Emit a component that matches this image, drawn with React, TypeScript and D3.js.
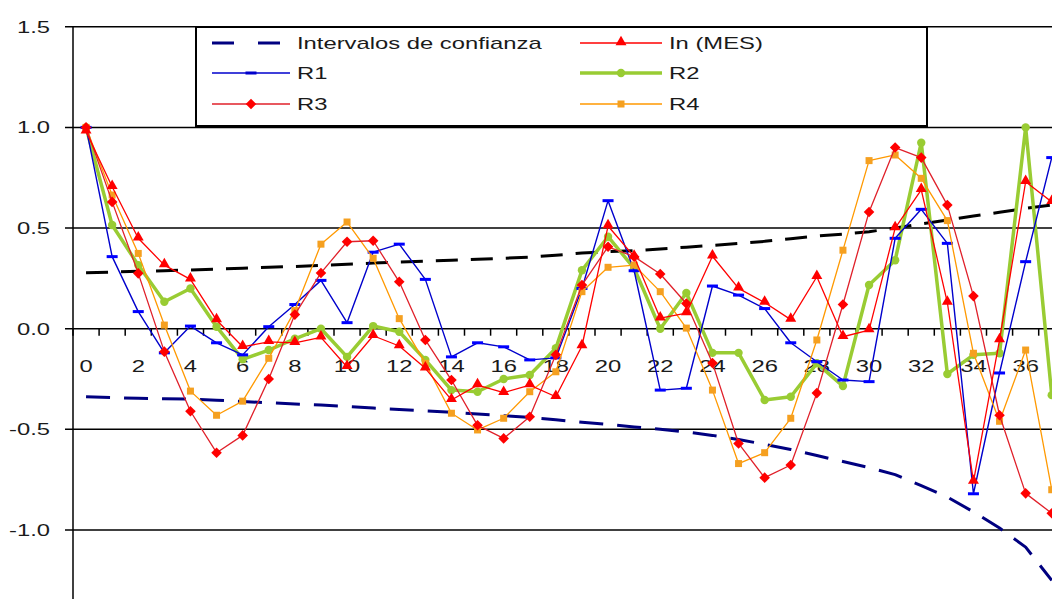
import React from "react";
import * as d3 from "d3";

// ---- data ----
const periods = [0,1,2,3,4,5,6,7,8,9,10,11,12,13,14,15,16,17,18,19,20,21,22,23,24,25,26,27,28,29,30,31,32,33,34,35,36,37];
const xTickLabels = ["0","2","4","6","8","10","12","14","16","18","20","22","24","26","28","30","32","34","36"];
const xTickIndex = [0,2,4,6,8,10,12,14,16,18,20,22,24,26,28,30,32,34,36];
const yTicks = [1.5, 1.0, 0.5, 0.0, -0.5, -1.0];
const yTickLabels = ["1.5", "1.0", "0.5", "0.0", "-0.5", "-1.0"];

const ciUpper = [0.278,0.281,0.285,0.288,0.292,0.296,0.300,0.305,0.309,0.314,0.320,0.326,0.331,0.335,0.340,0.345,0.350,0.356,0.365,0.376,0.383,0.388,0.396,0.405,0.414,0.424,0.434,0.447,0.460,0.470,0.482,0.500,0.520,0.540,0.560,0.578,0.598,0.615];
const ciLower = [-0.338,-0.342,-0.346,-0.348,-0.350,-0.355,-0.362,-0.368,-0.374,-0.379,-0.386,-0.394,-0.401,-0.408,-0.415,-0.424,-0.432,-0.441,-0.452,-0.465,-0.476,-0.488,-0.500,-0.513,-0.530,-0.550,-0.575,-0.600,-0.630,-0.660,-0.690,-0.725,-0.780,-0.836,-0.910,-0.990,-1.085,-1.250];
const inMes = [0.98,0.705,0.449,0.316,0.245,0.043,-0.09,-0.065,-0.07,-0.043,-0.19,-0.035,-0.086,-0.197,-0.354,-0.28,-0.318,-0.28,-0.338,-0.086,0.51,0.358,0.052,0.077,0.36,0.20,0.13,0.045,0.258,-0.04,-0.007,0.50,0.69,0.13,-0.76,-0.056,0.73,0.63];
const r1 = [1.0,0.358,0.085,-0.12,0.013,-0.07,-0.13,0.01,0.12,0.24,0.03,0.38,0.42,0.245,-0.14,-0.07,-0.09,-0.155,-0.145,0.20,0.636,0.288,-0.305,-0.296,0.212,0.167,0.10,-0.07,-0.164,-0.255,-0.263,0.449,0.593,0.424,-0.82,-0.22,0.333,0.85];
const r2 = [1.0,0.515,0.316,0.134,0.2,0.01,-0.152,-0.106,-0.05,0.0,-0.14,0.013,-0.015,-0.155,-0.305,-0.313,-0.25,-0.23,-0.097,0.29,0.457,0.30,0.0,0.177,-0.12,-0.12,-0.354,-0.338,-0.172,-0.285,0.217,0.34,0.924,-0.225,-0.13,-0.122,1.0,-0.33];
const r3 = [1.0,0.63,0.275,-0.114,-0.41,-0.616,-0.53,-0.25,0.07,0.277,0.432,0.437,0.233,-0.056,-0.255,-0.48,-0.545,-0.437,-0.13,0.217,0.407,0.358,0.272,0.125,-0.17,-0.57,-0.74,-0.677,-0.32,0.12,0.58,0.90,0.85,0.614,0.162,-0.43,-0.818,-0.917];
const r4 = [1.0,0.664,0.374,0.018,-0.31,-0.43,-0.36,-0.147,0.09,0.42,0.53,0.35,0.05,-0.172,-0.42,-0.503,-0.445,-0.313,-0.214,0.184,0.305,0.316,0.184,0.003,-0.305,-0.67,-0.616,-0.445,-0.056,0.39,0.835,0.863,0.747,0.537,-0.122,-0.46,-0.106,-0.80];

const W = 1052;
const H = 599;
const FONT = "'Liberation Sans', Arial, sans-serif";
const SX = 1.4;

const x = d3.scaleBand<number>().domain(periods).range([73, 73 + 26.1 * periods.length]).padding(0);
const cx = (i: number) => (x(i) as number) + x.bandwidth() / 2;
const y = d3.scaleLinear().domain([-1.5, 1.5]).range([630.65, 26.75]);

type Marker = "tri" | "bar" | "circle" | "diamond" | "square" | "none";

const triPath = d3.symbol(d3.symbolTriangle, 52)()!;
const diaPath = d3.symbol(d3.symbolSquare, 56)()!;

function MarkerShape({ kind, px, py, color }: { kind: Marker; px: number; py: number; color: string }) {
  if (kind === "tri") return <path d={triPath} transform={`translate(${px},${py - 1})`} fill={color} />;
  if (kind === "diamond") return <path d={diaPath} transform={`translate(${px},${py}) rotate(45)`} fill={color} />;
  if (kind === "bar") return <rect x={px - 5.5} y={py - 1.5} width={11} height={3} fill={color} />;
  if (kind === "circle") return <circle cx={px} cy={py} r={4.2} fill={color} />;
  if (kind === "square") return <rect x={px - 3.5} y={py - 3.5} width={7} height={7} fill={color} />;
  return null;
}

const lineGen = d3.line<number>().x((_, i) => cx(i)).y((d) => y(d));

function Series({ data, color, width, marker, markerColor, dash }: { data: number[]; color: string; width: number; marker: Marker; markerColor: string; dash?: string }) {
  return (
    <g>
      <path d={lineGen(data) || ""} fill="none" stroke={color} strokeWidth={width} strokeDasharray={dash} strokeLinejoin="round" />
      {marker !== "none" && data.map((v, i) => <MarkerShape key={i} kind={marker} px={cx(i)} py={y(v)} color={markerColor} />)}
    </g>
  );
}

function Label({ tx, ty, text, anchor }: { tx: number; ty: number; text: string; anchor: string }) {
  return (
    <text transform={`translate(${tx},${ty}) scale(${SX},1)`} textAnchor={anchor} fontFamily={FONT} fontSize={17} fill="#1a1a1a">
      {text}
    </text>
  );
}

const legendItems = [
  { label: "Intervalos de confianza", color: "#000080", width: 3, marker: "none" as Marker, mcolor: "#000080", dash: "22,24", col: 0, row: 0 },
  { label: "In (MES)", color: "#FF0000", width: 1.4, marker: "tri" as Marker, mcolor: "#FF0000", col: 1, row: 0 },
  { label: "R1", color: "#0000CC", width: 1.4, marker: "bar" as Marker, mcolor: "#0000CC", col: 0, row: 1 },
  { label: "R2", color: "#99CC33", width: 3.5, marker: "circle" as Marker, mcolor: "#99CC33", col: 1, row: 1 },
  { label: "R3", color: "#E0202A", width: 1.4, marker: "diamond" as Marker, mcolor: "#FF0000", col: 0, row: 2 },
  { label: "R4", color: "#FF9900", width: 1.4, marker: "square" as Marker, mcolor: "#F5A020", col: 1, row: 2 },
];

export default function App() {
  const y0 = y(0);
  const colX = [212, 580];
  const colW = [78, 82];
  const rowY = [43, 73, 104];
  return (
    <svg width={W} height={H} style={{ position: "absolute", left: 0, top: 0, background: "#fff" }}>
      <rect x={0} y={0} width={W} height={H} fill="#fff" />
      {/* gridlines */}
      {yTicks.map((t) => (
        <line key={t} x1={65} x2={W} y1={y(t)} y2={y(t)} stroke="#000" strokeWidth={1.5} />
      ))}
      {/* y axis */}
      <line x1={73} x2={73} y1={y(1.5)} y2={H} stroke="#000" strokeWidth={1.5} />
      {/* x ticks */}
      {periods.map((p) => (
        <line key={p} x1={x(p) as number} x2={x(p) as number} y1={y0} y2={y0 + 7} stroke="#000" strokeWidth={1.5} />
      ))}
      {/* y tick labels */}
      {yTicks.map((t, i) => (
        <Label key={t} tx={50} ty={y(t) + 6} text={yTickLabels[i]} anchor="end" />
      ))}
      {/* x tick labels */}
      {xTickIndex.map((p, i) => (
        <Label key={p} tx={cx(p)} ty={372} text={xTickLabels[i]} anchor="middle" />
      ))}

      {/* confidence intervals */}
      <Series data={ciUpper} color="#000000" width={3} marker="none" markerColor="#000" dash="22,13" />
      <Series data={ciLower} color="#000080" width={3} marker="none" markerColor="#000080" dash="24,14" />

      {/* series */}
      <Series data={r2} color="#99CC33" width={3.5} marker="circle" markerColor="#99CC33" />
      <Series data={r1} color="#0000CC" width={1.4} marker="bar" markerColor="#0000FF" />
      <Series data={r4} color="#FF9900" width={1.3} marker="square" markerColor="#F5A020" />
      <Series data={r3} color="#E0202A" width={1.3} marker="diamond" markerColor="#FF0000" />
      <Series data={inMes} color="#FF0000" width={1.3} marker="tri" markerColor="#FF0000" />

      {/* legend */}
      <rect x={196} y={27} width={731} height={99} fill="#fff" stroke="#000" strokeWidth={2} />
      {legendItems.map((it) => {
        const lx = colX[it.col];
        const lw = colW[it.col];
        const ly = rowY[it.row];
        return (
          <g key={it.label}>
            <line x1={lx} x2={lx + lw} y1={ly} y2={ly} stroke={it.color} strokeWidth={it.width} strokeDasharray={it.dash} />
            <MarkerShape kind={it.marker} px={lx + lw / 2} py={ly} color={it.mcolor} />
            <Label tx={lx + lw + 7} ty={ly + 6} text={it.label} anchor="start" />
          </g>
        );
      })}
    </svg>
  );
}
